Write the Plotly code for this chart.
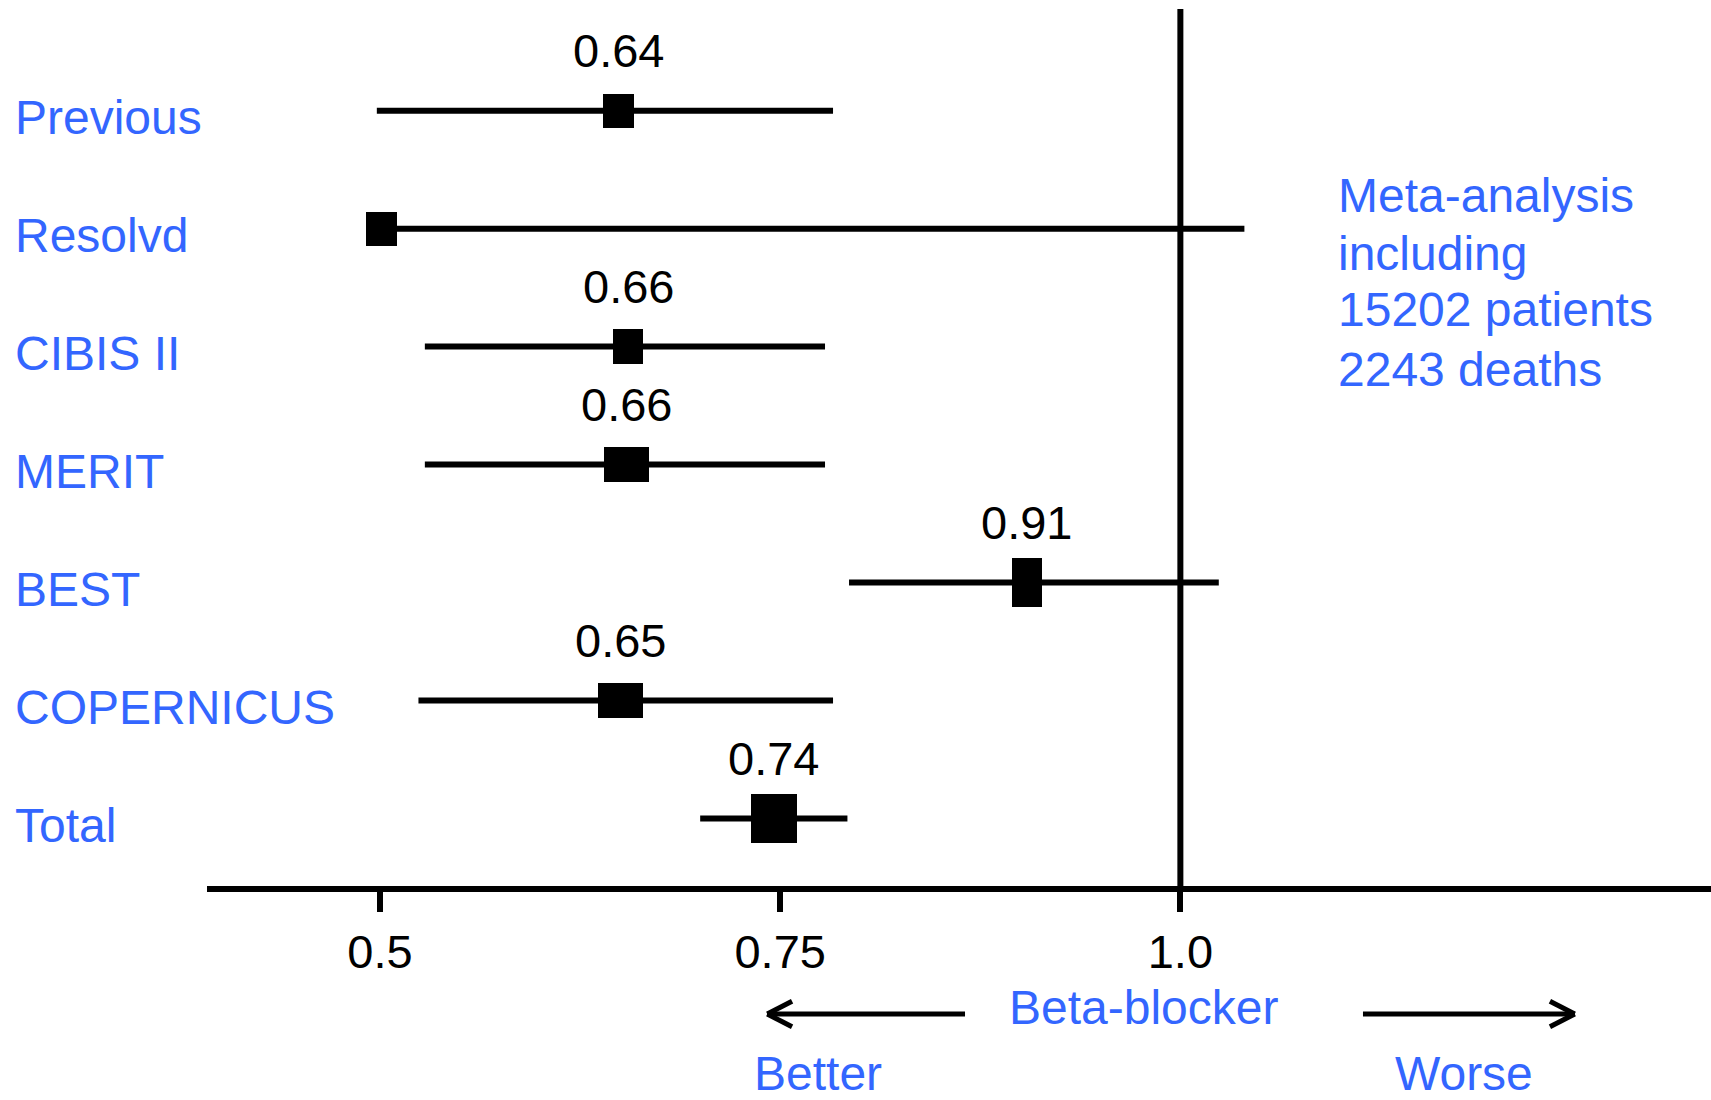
import plotly.graph_objects as go

# ---------------- data ----------------
studies = ["Previous", "Resolvd", "CIBIS II", "MERIT", "BEST", "COPERNICUS", "Total"]
estimate = [0.649, 0.501, 0.655, 0.654, 0.904, 0.650, 0.746]
ci_low = [0.498, 0.500, 0.528, 0.528, 0.793, 0.524, 0.700]
ci_high = [0.783, 1.040, 0.778, 0.778, 1.024, 0.783, 0.792]
value_labels = ["0.64", "", "0.66", "0.66", "0.91", "0.65", "0.74"]
box_width = [0.019, 0.019, 0.019, 0.028, 0.019, 0.028, 0.029]   # weight box width (x units)
box_height = [0.29, 0.29, 0.29, 0.30, 0.42, 0.30, 0.42]        # weight box height (row units)
tick_values = [0.5, 0.75, 1.0]
tick_labels = ["0.5", "0.75", "1.0"]
meta_lines = ["Meta-analysis", "including", "15202 patients", "2243 deaths"]

BLUE = "#3366ff"
FONT = "Liberation Sans, Arial, sans-serif"
FS_TXT = 48
FS_NUM = 47

rows = list(range(len(studies)))

fig = go.Figure()

# weight boxes
fig.add_trace(go.Bar(
    orientation="h",
    y=rows,
    x=box_width,
    base=[e - w / 2 for e, w in zip(estimate, box_width)],
    width=box_height,
    marker=dict(color="black", line=dict(width=0)),
    showlegend=False,
    hoverinfo="skip",
))

# confidence intervals
fig.add_trace(go.Scatter(
    x=estimate,
    y=rows,
    mode="markers",
    marker=dict(size=1, color="black", opacity=0),
    error_x=dict(
        type="data",
        symmetric=False,
        array=[h - e for h, e in zip(ci_high, estimate)],
        arrayminus=[e - l for e, l in zip(estimate, ci_low)],
        thickness=6,
        width=0,
        color="black",
    ),
    showlegend=False,
    hoverinfo="skip",
))

annotations = []
# value labels above boxes
for r, e, t in zip(rows, estimate, value_labels):
    if t:
        annotations.append(dict(
            x=e, y=r, xref="x", yref="y", text=t, showarrow=False,
            xanchor="center", yanchor="middle", yshift=60,
            font=dict(family=FONT, size=FS_NUM, color="black"),
        ))
# study names on the left
for r, s in zip(rows, studies):
    annotations.append(dict(
        x=-0.1290, y=r, xref="paper", yref="y", text=s, showarrow=False,
        xanchor="left", yanchor="middle", yshift=-7,
        font=dict(family=FONT, size=FS_TXT, color=BLUE),
    ))
# meta-analysis block
meta_y = [0.7868, 0.7212, 0.6568, 0.5895]
for line, yy in zip(meta_lines, meta_y):
    annotations.append(dict(
        x=0.7509, y=yy, xref="paper", yref="paper", text=line, showarrow=False,
        xanchor="left", yanchor="middle",
        font=dict(family=FONT, size=FS_TXT, color=BLUE),
    ))
# bottom texts
for txt, xx, yy in [("Beta-blocker", 0.6230, -0.1380),
                    ("Better", 0.40625, -0.2140),
                    ("Worse", 0.83577, -0.2140)]:
    annotations.append(dict(
        x=xx, y=yy, xref="paper", yref="paper", text=txt, showarrow=False,
        xanchor="center", yanchor="middle",
        font=dict(family=FONT, size=FS_TXT, color=BLUE),
    ))

arrow_y = -0.14595
dy = 0.0145
line_style = dict(color="black", width=5)
shapes = [
    # reference line at 1.0
    dict(type="line", xref="x", yref="paper", x0=1.0, x1=1.0, y0=0, y1=1,
         line=dict(color="black", width=6)),
    # left arrow (Better)
    dict(type="line", xref="paper", yref="paper", x0=0.3725, x1=0.5040, y0=arrow_y, y1=arrow_y, line=line_style),
    dict(type="line", xref="paper", yref="paper", x0=0.3725, x1=0.3890, y0=arrow_y, y1=arrow_y + dy, line=line_style),
    dict(type="line", xref="paper", yref="paper", x0=0.3725, x1=0.3890, y0=arrow_y, y1=arrow_y - dy, line=line_style),
    # right arrow (Worse)
    dict(type="line", xref="paper", yref="paper", x0=0.7686, x1=0.9094, y0=arrow_y, y1=arrow_y, line=line_style),
    dict(type="line", xref="paper", yref="paper", x0=0.9094, x1=0.8929, y0=arrow_y, y1=arrow_y + dy, line=line_style),
    dict(type="line", xref="paper", yref="paper", x0=0.9094, x1=0.8929, y0=arrow_y, y1=arrow_y - dy, line=line_style),
]

fig.update_layout(
    width=1711,
    height=1100,
    margin=dict(l=207, r=0, t=9, b=214, pad=0),
    paper_bgcolor="white",
    plot_bgcolor="white",
    showlegend=False,
    bargap=0,
    annotations=annotations,
    shapes=shapes,
    xaxis=dict(
        range=[0.3919, 1.3315],
        tickvals=tick_values,
        ticktext=tick_labels,
        ticks="outside",
        ticklen=20,
        tickwidth=6,
        tickcolor="black",
        showline=True,
        linewidth=6,
        linecolor="black",
        showgrid=False,
        zeroline=False,
        tickfont=dict(family=FONT, size=FS_NUM, color="black"),
    ),
    yaxis=dict(
        range=[6.573, -0.862],
        visible=False,
        showgrid=False,
        zeroline=False,
    ),
)

fig.write_html("out.html")
